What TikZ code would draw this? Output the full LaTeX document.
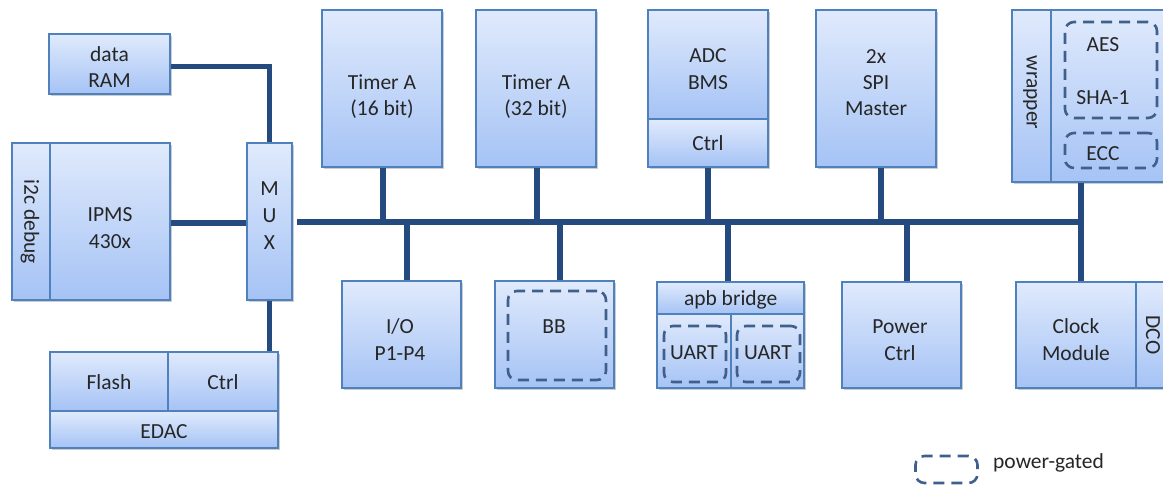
\documentclass[tikz,border=0pt]{standalone}
\usepackage{fontspec}
\setmainfont{Carlito}
\usetikzlibrary{shadows,backgrounds}
\definecolor{boxtop}{HTML}{E0EAFC}
\definecolor{boxbot}{HTML}{A5C3F5}
\definecolor{boxline}{HTML}{4F81BD}
\definecolor{wirecol}{HTML}{244A80}
\definecolor{gatecol}{HTML}{3F5F8C}
\definecolor{ink}{HTML}{262626}
\begin{document}
\begin{tikzpicture}[x=1pt,y=-1pt,
  block/.style={draw=boxline, line width=1.2pt, top color=boxtop, bottom color=boxbot,
    inner sep=0pt, drop shadow={shadow xshift=1.5pt, shadow yshift=-2pt, opacity=0.28, fill=black!70}},
  sz/.style 2 args={minimum width=#1pt, minimum height=#2pt},
  lbl/.style={anchor=base, align=center, inner sep=0pt, text=ink,
    font=\fontsize{21.5}{26.5}\selectfont},
  vlbl/.style={lbl, anchor=center, rotate=-90},
  gated/.style={draw=gatecol, line width=2.6pt, dash pattern=on 11pt off 7pt,
    rounded corners=9pt, inner sep=0pt},
  wire/.style={draw=wirecol, line width=5.5pt}]
\useasboundingbox (0,0) rectangle (1163,487);
\clip (0,0) rectangle (1163,487);

% processor side (label positions give the baseline of the last line)
\node[block, sz={121}{60}] (ram) at (109.5,64) {};
\node[lbl] (ram-t) at (109.5,87.7) {data\\RAM};
\node[block, sz={38}{157}] (dbg) at (31,221.5) {};
\node[vlbl] (dbg-t) at (30,221.7) {i2c debug};
\node[block, sz={120}{157}] (cpu) at (110,221.5) {};
\node[lbl] (cpu-t) at (110,248.3) {IPMS\\430x};
\node[block, sz={45}{157}] (mux) at (269.5,221.5) {};
\node[lbl, font=\fontsize{21.5}{27}\selectfont] (mux-t) at (269.5,249) {M\\U\\X};
\node[block, sz={118}{59}] (flash) at (109,381.5) {};
\node[lbl] (flash-t) at (109,389.3) {Flash};
\node[block, sz={110}{59}] (fctrl) at (223,381.5) {};
\node[lbl] (fctrl-t) at (223,389.3) {Ctrl};
\node[block, sz={228}{37}] (edac) at (164,429.5) {};
\node[lbl] (edac-t) at (164,438.3) {EDAC};

% upper peripherals
\node[block, sz={120}{157}] (t16) at (382,88.5) {};
\node[lbl] (t16-t) at (382,115.7) {Timer A\\(16 bit)};
\node[block, sz={120}{157}] (t32) at (536,88.5) {};
\node[lbl] (t32-t) at (536,115.7) {Timer A\\(32 bit)};
\node[block, sz={120}{109}] (adc) at (708,64.5) {};
\node[lbl] (adc-t) at (708,89.3) {ADC\\BMS};
\node[block, sz={120}{48}] (adcc) at (708,143) {};
\node[lbl] (adcc-t) at (708,150) {Ctrl};
\node[block, sz={120}{157}] (spi) at (876,88.5) {};
\node[lbl] (spi-t) at (876,116) {2x\\SPI\\Master};
\node[block, sz={39}{172}] (wrap) at (1031.5,96) {};
\node[vlbl] (wrap-t) at (1030,92.5) {wrapper};
\node[block, sz={128}{172}] (crypto) at (1115,96) {};
\node[gated, sz={92}{96}] (aes) at (1111,70) {};
\node[lbl] (aes-t) at (1103,105) {AES\\[26.8pt]SHA-1};
\node[gated, sz={92}{35}] (ecc) at (1111,150.5) {};
\node[lbl] (ecc-t) at (1103,160) {ECC};

% lower peripherals
\node[block, sz={119}{107}] (io) at (401.5,334.5) {};
\node[lbl] (io-t) at (400,360) {I/O\\P1-P4};
\node[block, sz={119}{107}] (bb) at (554.5,334.5) {};
\node[gated, sz={98}{89}] (bbg) at (557,335.5) {};
\node[lbl] (bb-t) at (554,333.3) {BB};
\node[block, sz={147}{32}] (apb) at (730.5,298) {};
\node[lbl] (apb-t) at (730.7,305) {apb bridge};
\node[block, sz={74}{74}] (u1) at (694,351) {};
\node[block, sz={73}{74}] (u2) at (767.5,351) {};
\node[gated, sz={62}{56}] (u1g) at (695,354) {};
\node[gated, sz={63}{56}] (u2g) at (768.5,354) {};
\node[lbl] (u1-t) at (694,359.3) {UART};
\node[lbl] (u2-t) at (768,359.3) {UART};
\node[block, sz={119}{106}] (pwr) at (901.5,335) {};
\node[lbl] (pwr-t) at (900,360) {Power\\Ctrl};
\node[block, sz={120}{106}] (clk) at (1076,335) {};
\node[lbl] (clk-t) at (1076,360) {Clock\\Module};
\node[block, sz={44}{106}] (dco) at (1158,335) {};
\node[vlbl] (dco-t) at (1153,335) {DCO};

% legend
\node[gated, sz={62}{27}] (leg) at (946.5,469.5) {};
\node[lbl, anchor=base west] (leg-t) at (993,468.3) {power-gated};

% interconnect
\coordinate (busL) at (297,222);
\coordinate (busR) at (1084,222);
\begin{pgfonlayer}{background}
\draw[wire] ([yshift=-2.7pt]ram.east) -| (mux.north);
\draw[wire] ([yshift=-1.5pt]cpu.east) -- ([yshift=-1.5pt]mux.west);
\draw[wire] (mux.south) -- (mux.south |- fctrl.north);
\draw[wire] (busL) -- (busR);
\draw[wire] ([xshift=1pt]t16.south) -- ([xshift=1pt]t16.south |- busL);
\draw[wire] ([xshift=1pt]t32.south) -- ([xshift=1pt]t32.south |- busL);
\draw[wire] (adcc.south) -- (adcc.south |- busL);
\draw[wire] ([xshift=5pt]spi.south) -- ([xshift=5pt]spi.south |- busL);
\draw[wire] ([xshift=5pt]clk.north) -- ([xshift=5pt]clk.north |- crypto.south);
\draw[wire] ([xshift=5.5pt]io.north) -- ([xshift=5.5pt]io.north |- busL);
\draw[wire] ([xshift=5.5pt]bb.north) -- ([xshift=5.5pt]bb.north |- busL);
\draw[wire] ([xshift=-2.5pt]apb.north) -- ([xshift=-2.5pt]apb.north |- busL);
\draw[wire] ([xshift=5.5pt]pwr.north) -- ([xshift=5.5pt]pwr.north |- busL);
\end{pgfonlayer}
\end{tikzpicture}
\end{document}
